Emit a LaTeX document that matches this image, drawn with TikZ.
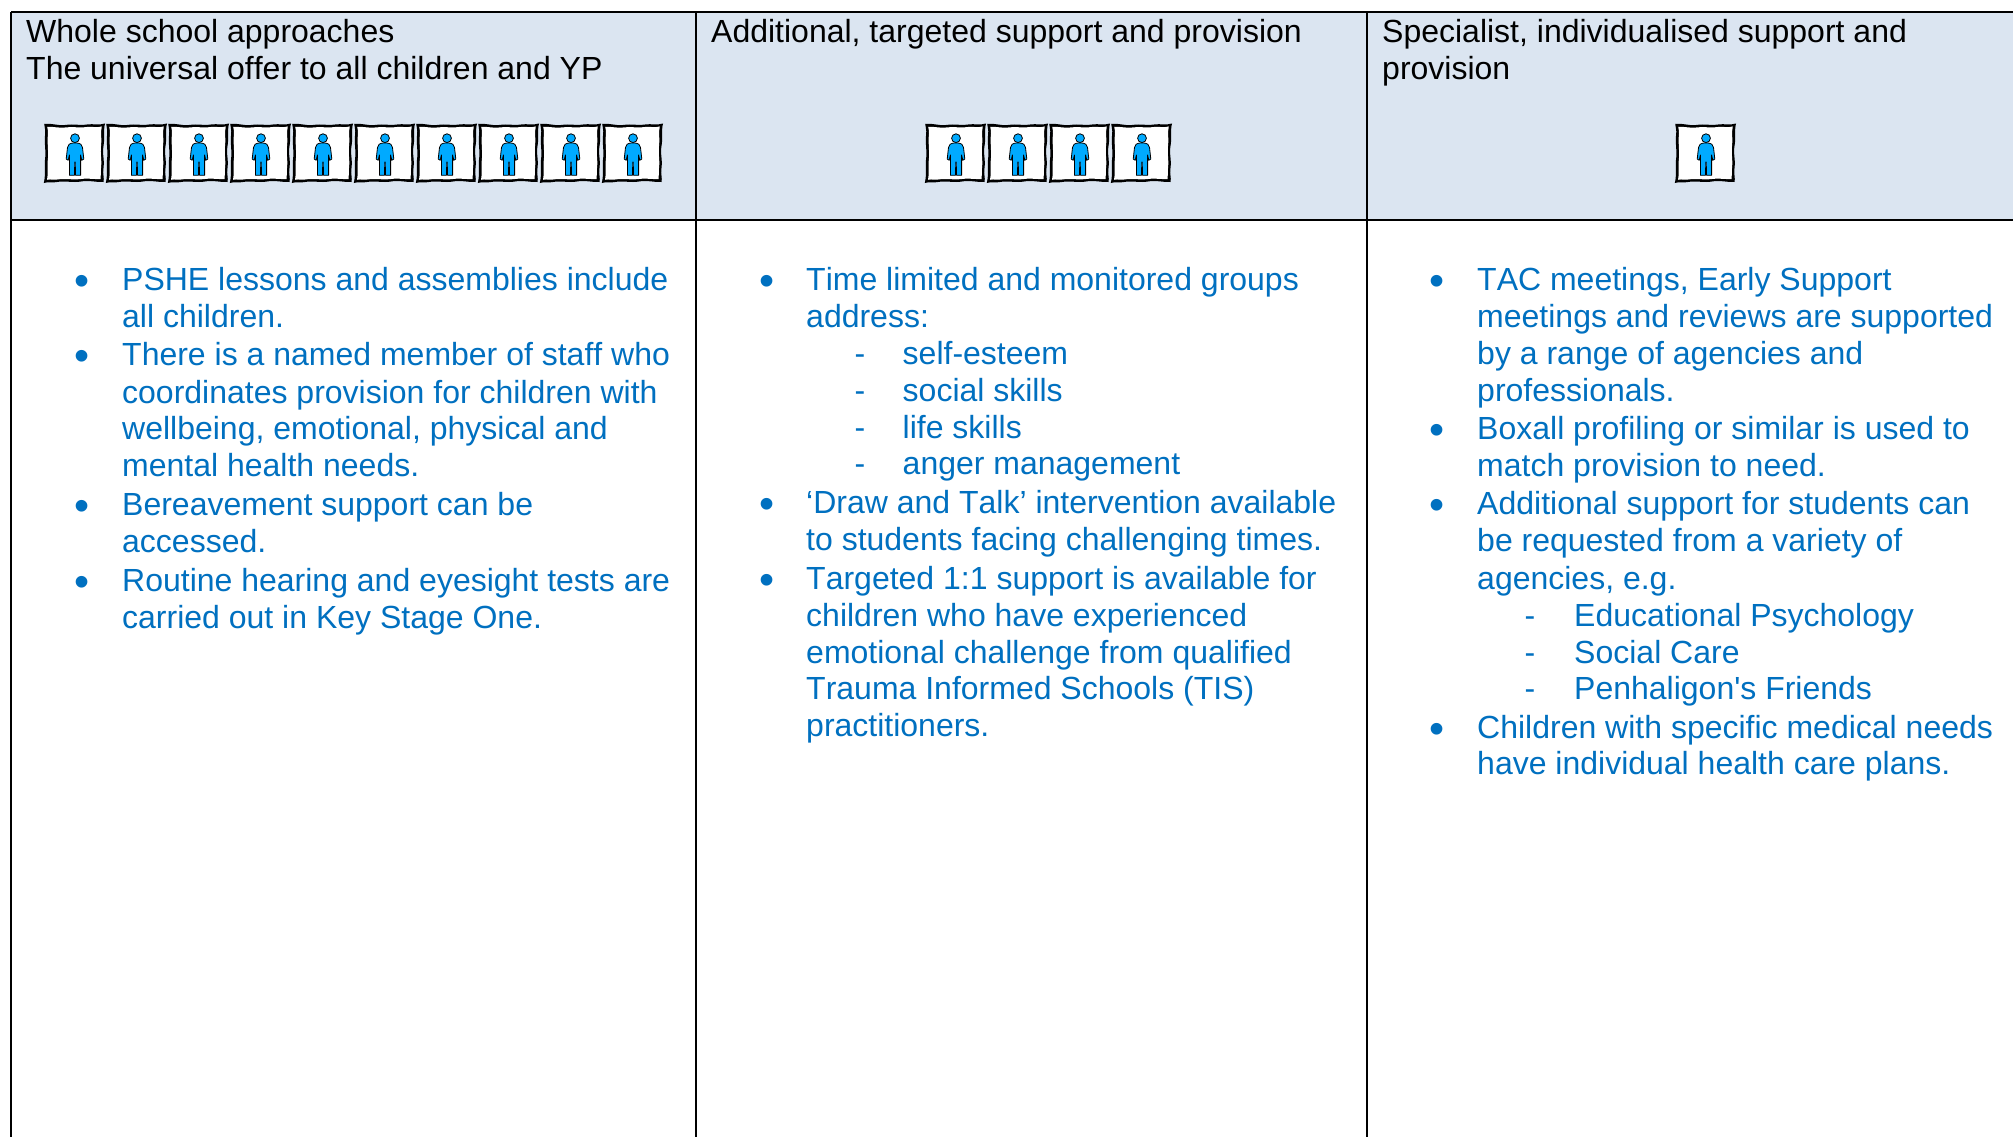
\documentclass[tikz,border=0pt]{standalone}
\usepackage{fontspec}
\newfontfamily\arialish[Ligatures=NoCommon,Kerning=Off]{Liberation Sans}
\definecolor{headfill}{HTML}{DBE5F1}
\definecolor{bodyblue}{HTML}{0070C0}
\definecolor{kidblue}{HTML}{00AAFF}
\newcounter{tln}
\newcommand{\hd}[3]{\stepcounter{tln}\node[headtext] (t\arabic{tln}) at (#1,#2) {#3};}
\newcommand{\tl}[3]{\stepcounter{tln}\node[bodytext] (t\arabic{tln}) at (#1,#2) {#3};}
\newcommand{\bl}[2]{\stepcounter{tln}\node[bulletmark] (t\arabic{tln}) at (#1,#2) {•};}
\newcommand{\ds}[2]{\stepcounter{tln}\node[dashmark] (t\arabic{tln}) at (#1,#2) {-};}
\tikzset{
  x=1pt,y=-1pt,
  headtext/.style={anchor=base west,inner sep=0pt,text=black,font=\arialish\fontsize{32}{37}\selectfont},
  bodytext/.style={headtext,text=bodyblue,yshift=-1.3pt},
  dashmark/.style={bodytext,anchor=base},
  bulletmark/.style={anchor=base,inner sep=0pt,text=bodyblue,xshift=.8pt,yshift=-6pt,font=\arialish\fontsize{43}{43}\selectfont},
  rule/.style={line width=1.9pt,black},
  kid/.pic={
    \fill[black] (-0.8,-0.2) .. controls (6,-1) and (14,2) .. (20,1) .. controls (30,-0.5) and (36,2) .. (42,0.5) .. controls (48,-0.5) and (54,1.5) .. (60,-0.5)
      .. controls (58,8) and (60,14) .. (58.5,22) .. controls (57,30) and (60,38) .. (58.5,44) .. controls (57.5,50) and (59.5,54) .. (58.5,58)
      .. controls (52,58.5) and (44,56) .. (36,57.5) .. controls (28,59) and (20,56.5) .. (12,58) .. controls (8,59) and (3,57.5) .. (-1.2,59)
      .. controls (1,50) and (-1,42) .. (0.2,34) .. controls (1,26) and (-1,18) .. (0.2,10) .. controls (0.6,6) and (-0.5,3) .. (-0.8,-0.2) -- cycle;
    \fill[white] (2.2,2.8) .. controls (8,2.5) and (14,4.2) .. (20,3.5) .. controls (30,2.5) and (36,4.2) .. (42,3) .. controls (47,2.5) and (52,3.8) .. (56.8,2.5)
      .. controls (55,9) and (57.2,15) .. (56,22) .. controls (55,30) and (57.2,38) .. (56,44) .. controls (55.5,49) and (56.2,52) .. (55.5,55)
      .. controls (50,55.5) and (44,54) .. (36,55) .. controls (28,56) and (20,54.3) .. (12,55.5) .. controls (9,56) and (6,55) .. (2,55.8)
      .. controls (3.5,48) and (2,42) .. (3,34) .. controls (3.5,26) and (2,18) .. (3,10) .. controls (3.2,7) and (2.6,5) .. (2.2,2.8) -- cycle;
    \draw[fill=kidblue,draw=black,line width=.8pt,line join=round]
      (28,19) -- (32,19) .. controls (35.5,19.5) and (37,20.5) .. (37.5,23.5)
      -- (38.8,35) -- (36.8,36.3) -- (35.6,31) -- (35.6,51.3) -- (30.6,51.3) -- (30.2,38) -- (29.8,38) -- (29.4,51.3) -- (24.4,51.3)
      -- (24.4,31) -- (23.2,36.3) -- (21.2,35) -- (22.5,23.5) .. controls (23,20.5) and (24.5,19.5) .. (28,19) -- cycle;
    \draw[fill=kidblue,draw=black,line width=.8pt] (30,14.2) circle (4.4);
  }
}
\begin{document}
\begin{tikzpicture}
\useasboundingbox (0,0) rectangle (2013,1137);
\fill[white] (0,0) rectangle (2013,1137);
\fill[headfill] (11,12) rectangle (2013,220);
% table frame
\coordinate (tl) at (11,12); \coordinate (tr) at (2013,12);
\coordinate (ml) at (11,220); \coordinate (mr) at (2013,220);
\coordinate (bl) at (11,1137);
\coordinate (a1) at (696,12); \coordinate (a2) at (696,1137);
\coordinate (b1) at (1367,12); \coordinate (b2) at (1367,1137);
\draw[rule] (tl) -- (tr);
\draw[rule] (ml) -- (mr);
\draw[rule] (tl) -- (bl);
\draw[rule] (a1) -- (a2);
\draw[rule] (b1) -- (b2);
% headers
\hd{26}{43}{Whole school approaches}
\hd{26}{79.6}{The universal offer to all children and YP}
\hd{711}{43}{Additional, targeted support and provision}
\hd{1382}{43}{Specialist, individualised support and}
\hd{1382}{79.6}{provision}
% icons
\foreach \i in {0,...,9} \pic at ({45+62*\i},124) {kid};
\foreach \i in {0,...,3} \pic at ({926+62*\i},124) {kid};
\pic at (1676,124) {kid};
% column 1
\bl{81}{289}\tl{122}{289}{PSHE lessons and assemblies include}
\tl{122}{326}{all children.}
\bl{81}{364.5}\tl{122}{364.5}{There is a named member of staff who}
\tl{122}{402}{coordinates provision for children with}
\tl{122}{438.5}{wellbeing, emotional, physical and}
\tl{122}{475.5}{mental health needs.}
\bl{81}{514}\tl{122}{514}{Bereavement support can be}
\tl{122}{551}{accessed.}
\bl{81}{590}\tl{122}{590}{Routine hearing and eyesight tests are}
\tl{122}{627}{carried out in Key Stage One.}
% column 2
\bl{766.5}{289}\tl{806}{289}{Time limited and monitored groups}
\tl{806}{326}{address:}
\ds{860}{363.5}\tl{902.5}{363.5}{self-esteem}
\ds{860}{400.5}\tl{902.5}{400.5}{social skills}
\ds{860}{437}\tl{902.5}{437}{life skills}
\ds{860}{473.5}\tl{902.5}{473.5}{anger management}
\bl{766.5}{512}\tl{806}{512}{‘Draw and Talk’ intervention available}
\tl{806}{549}{to students facing challenging times.}
\bl{766.5}{588}\tl{806}{588}{Targeted 1:1 support is available for}
\tl{806}{625}{children who have experienced}
\tl{806}{662}{emotional challenge from qualified}
\tl{806}{698.5}{Trauma Informed Schools (TIS)}
\tl{806}{735.5}{practitioners.}
% column 3
\bl{1436}{289}\tl{1477}{289}{TAC meetings, Early Support}
\tl{1477}{326}{meetings and reviews are supported}
\tl{1477}{363}{by a range of agencies and}
\tl{1477}{400}{professionals.}
\bl{1436}{438}\tl{1477}{438}{Boxall profiling or similar is used to}
\tl{1477}{475}{match provision to need.}
\bl{1436}{513}\tl{1477}{513}{Additional support for students can}
\tl{1477}{550}{be requested from a variety of}
\tl{1477}{588}{agencies, e.g.}
\ds{1530}{625}\tl{1574}{625}{Educational Psychology}
\ds{1530}{662}\tl{1574}{662}{Social Care}
\ds{1530}{698}\tl{1574}{698}{Penhaligon's Friends}
\bl{1436}{737}\tl{1477}{737}{Children with specific medical needs}
\tl{1477}{773.5}{have individual health care plans.}
\end{tikzpicture}
\end{document}
